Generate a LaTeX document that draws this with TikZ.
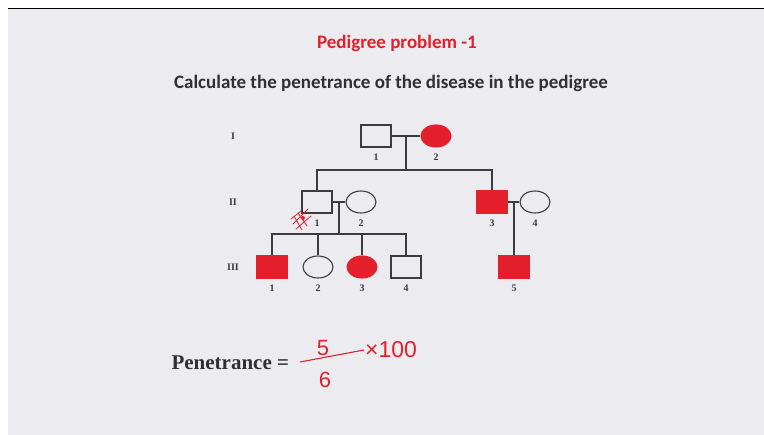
\documentclass[tikz,border=0pt]{standalone}
\usepackage{fontspec}
\usepackage{tikz}
\usetikzlibrary{positioning,shapes.geometric}
\newfontfamily\carlito{Carlito}
\newfontfamily\tiempos{Liberation Serif}
\newfontfamily\mano{Liberation Sans}
\definecolor{rojo}{HTML}{E3202B}
\definecolor{fondo}{HTML}{ECEBF0}
\definecolor{linea}{HTML}{3C3C3C}
\tikzset{
  varon/.style={rectangle,draw=linea,line width=1.1pt,minimum width=30pt,minimum height=22pt,inner sep=0pt},
  mujer/.style={ellipse,draw=linea,line width=1.1pt,minimum width=30pt,minimum height=22pt,inner sep=0pt},
  afectado/.style={draw=rojo,fill=rojo},
  num/.style={font=\tiempos\bfseries\fontsize{10}{11}\selectfont,text=linea,inner sep=0pt},
  gen/.style={font=\tiempos\bfseries\fontsize{10}{11}\selectfont,text=linea,inner sep=0pt},
  rama/.style={draw=linea,line width=1.1pt}
}
\begin{document}
\begin{tikzpicture}[x=1pt,y=-1pt]
    \useasboundingbox (0,0) rectangle (764,435);
    \fill[white] (0,0) rectangle (764,435);
    \fill[fondo] (8,9) rectangle (764,435);
    \draw[black,line width=1.4pt] (8,8.8) -- (764,8.8);
    % titles
    \node[font=\carlito\bfseries\fontsize{19}{22}\selectfont,text=rojo] (titulo) at (397,43) {Pedigree problem -1};
    \node[font=\carlito\bfseries\fontsize{19}{22}\selectfont,text=linea!80!black] (enunciado) at (391,83) {Calculate the penetrance of the disease in the pedigree};
    % generations
    \node[gen] (gI) at (233,136) {I};
    \node[gen] (gII) at (233,202) {II};
    \node[gen] (gIII) at (233,267) {III};
    % generation I
    \node[varon] (I1) at (376,136) {};
    \node[mujer,afectado] (I2) at (436,136) {};
    \coordinate (m1) at (406,136);
    \coordinate (s1) at (406,170);
    % generation II
    \node[varon] (II1) at (317,202) {};
    \node[mujer] (II2) at (361,202) {};
    \node[varon,afectado] (II3) at (492,202) {};
    \node[mujer] (II4) at (535,202) {};
    \coordinate (m2) at (339,202);
    \coordinate (s2) at (339,234);
    \coordinate (m3) at (514,202);
    % generation III
    \node[varon,afectado] (III1) at (272,267) {};
    \node[mujer] (III2) at (318,267) {};
    \node[mujer,afectado] (III3) at (362,267) {};
    \node[varon] (III4) at (406,267) {};
    \node[varon,afectado] (III5) at (514,267) {};
    % lines
    \draw[rama] (I1) -- (I2);
    \draw[rama] (m1) -- (s1);
    \draw[rama] (II1.north) |- (s1) -| (II3.north);
    \draw[rama] (II1) -- (II2);
    \draw[rama] (m2) -- (s2);
    \draw[rama] (III1.north) |- (s2) -| (III4.north);
    \draw[rama] (III2.north) -- (III2.north |- s2);
    \draw[rama] (III3.north) -- (III3.north |- s2);
    \draw[rama] (II3) -- (II4);
    \draw[rama] (m3) -- (III5.north);
    % numbers
    \foreach \n/\t in {I1/1,I2/2,II1/1,II2/2,II3/3,II4/4,III1/1,III2/2,III3/3,III4/4,III5/5}{
      \node[num,below=6pt of \n] (n\n) {\t};
    }
    % scribble
    \draw[rojo,line width=0.8pt,line cap=round] (293,224) -- (308,209) (291,219) -- (301,211)
      (296,229) -- (311,216) (298,213) -- (307,226) (294,216) -- (302,230);
    \fill[rojo] (303,218) circle (2pt);
    % penetrance
    \node[font=\tiempos\bfseries\fontsize{21}{24}\selectfont,text=linea!80!black,anchor=west] (pen) at (168,363) {Penetrance =};
    \node[font=\mano\fontsize{22}{24}\selectfont,text=rojo] (cinco) at (323,348) {5};
    \node[font=\mano\fontsize{22}{24}\selectfont,text=rojo] (seis) at (325,380) {6};
    \node[font=\mano\fontsize{23}{26}\selectfont,text=rojo,anchor=west,inner sep=1pt] (cien) at (364,350) {×100};
    \draw[rojo,line width=1.1pt] (300,362) -- (cien.west);
  \end{tikzpicture}
\end{document}
